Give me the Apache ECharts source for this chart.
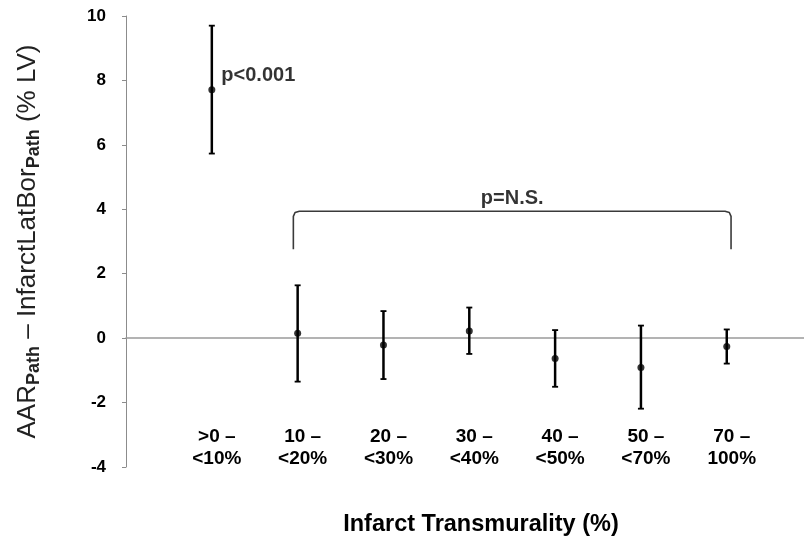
<!DOCTYPE html>
<html><head><meta charset="utf-8">
<script src="https://cdn.jsdelivr.net/npm/echarts@6/dist/echarts.min.js"></script>
<style>html,body{margin:0;padding:0;background:#fff}#c{width:804px;height:539px}</style>
</head><body><div id="c"></div>
<script>
// ---- data ----
const categories = ['>0 –\n<10%', '10 –\n<20%', '20 –\n<30%', '30 –\n<40%', '40 –\n<50%', '50 –\n<70%', '70 –\n100%'];
const means = [7.71, 0.15, -0.21, 0.22, -0.63, -0.91, -0.26];
const upper = [9.70, 1.64, 0.84, 0.95, 0.25, 0.39, 0.27];
const lower = [5.73, -1.35, -1.27, -0.49, -1.51, -2.19, -0.79];
const yTicks = [-4, -2, 0, 2, 4, 6, 8, 10];
const bracketPath = [[1.95, 2.76], [1.95, 3.78], [1.97, 3.90], [2.02, 3.94], [6.98, 3.94], [7.03, 3.90], [7.05, 3.78], [7.05, 2.76]];
const annotations = [
  { text: 'p<0.001', x: 1, y: 8.14 },
  { text: 'p=N.S.', x: 4.5, y: 4.34 }
];
const yTitle = 'AAR{sub|Path} – InfarctLatBor{sub|Path} (% LV)';
const xTitle = 'Infarct Transmurality (%)';
// --------------------------------------

const FONT = "'Liberation Sans', Arial, Helvetica, sans-serif";
const chart = echarts.init(document.getElementById('c'), null, { renderer: 'canvas' });

const option = {
  backgroundColor: '#fff',
  animation: false,
  title: {
    text: xTitle,
    left: 476, top: 508, textAlign: 'center',
    textStyle: { fontFamily: FONT, fontWeight: 'bold', fontSize: 23.5, color: '#000' }
  },
  grid: { left: 126, right: 0, top: 16, bottom: 72, containLabel: false, outerBoundsMode: 'none' },
  xAxis: {
    type: 'value', min: 0, max: 7.9, interval: 1,
    axisLine: { show: true, onZero: true, lineStyle: { color: '#9a9a9a', width: 1.5 } },
    axisTick: { show: false },
    splitLine: { show: false },
    axisLabel: {
      margin: -41, fontFamily: FONT, fontWeight: 'bold', fontSize: 19, lineHeight: 22, color: '#000',
      padding: [0, 0, 0, 10],
      showMaxLabel: false, showMinLabel: false, hideOverlap: false,
      formatter: v => (v >= 1 && v <= categories.length && Number.isInteger(v)) ? categories[v - 1] : ''
    }
  },
  yAxis: {
    type: 'value', min: yTicks[0], max: yTicks[yTicks.length - 1], interval: 2,
    axisLine: { show: true, lineStyle: { color: '#8c8c8c', width: 1 } },
    axisTick: { show: true, inside: false, length: 4, lineStyle: { color: '#8c8c8c' } },
    splitLine: { show: false },
    axisLabel: { margin: 20, fontFamily: FONT, fontWeight: 'bold', fontSize: 17, color: '#000' },
    name: yTitle, nameLocation: 'middle', nameRotate: 90, nameGap: 98,
    nameTextStyle: {
      fontFamily: FONT, fontSize: 26, color: '#222', lineHeight: 30, verticalAlign: 'middle',
      rich: { sub: { fontFamily: FONT, fontSize: 18, fontWeight: 'bold', color: '#222', lineHeight: 18, verticalAlign: 'bottom' } }
    }
  },
  series: [
    {
      type: 'custom', silent: true,
      data: means.map((m, i) => [i + 1, lower[i], upper[i]]),
      encode: { x: 0, y: [1, 2] },
      renderItem: function (params, api) {
        const x = api.value(0);
        const lo = api.coord([x, api.value(1)]);
        const hi = api.coord([x, api.value(2)]);
        const hw = 3;
        const st = { stroke: '#000', lineWidth: 2.5 };
        return {
          type: 'group', children: [
            { type: 'line', shape: { x1: hi[0], y1: hi[1], x2: lo[0], y2: lo[1] }, style: st },
            { type: 'line', shape: { x1: hi[0] - hw, y1: hi[1], x2: hi[0] + hw, y2: hi[1] }, style: { stroke: '#000', lineWidth: 1.8 } },
            { type: 'line', shape: { x1: lo[0] - hw, y1: lo[1], x2: lo[0] + hw, y2: lo[1] }, style: { stroke: '#000', lineWidth: 1.8 } }
          ]
        };
      },
      z: 3
    },
    {
      type: 'scatter', silent: true, symbol: 'circle', symbolSize: 7,
      itemStyle: { color: '#000' },
      data: means.map((m, i) => [i + 1, m]),
      z: 4
    },
    {
      type: 'line', silent: true, symbol: 'none',
      lineStyle: { color: '#3a3a3a', width: 1.6 },
      data: bracketPath,
      z: 2
    },
    {
      type: 'scatter', silent: true, symbolSize: 1,
      itemStyle: { color: 'rgba(0,0,0,0)' },
      data: annotations.map((a, i) => ({
        value: [a.x, a.y],
        label: {
          show: true, formatter: a.text,
          position: i === 0 ? 'right' : 'inside', distance: 9,
          fontFamily: FONT, fontWeight: 'bold', fontSize: 20, color: '#000'
        }
      })),
      z: 5
    }
  ]
};
chart.setOption(option);
</script>
</body></html>
